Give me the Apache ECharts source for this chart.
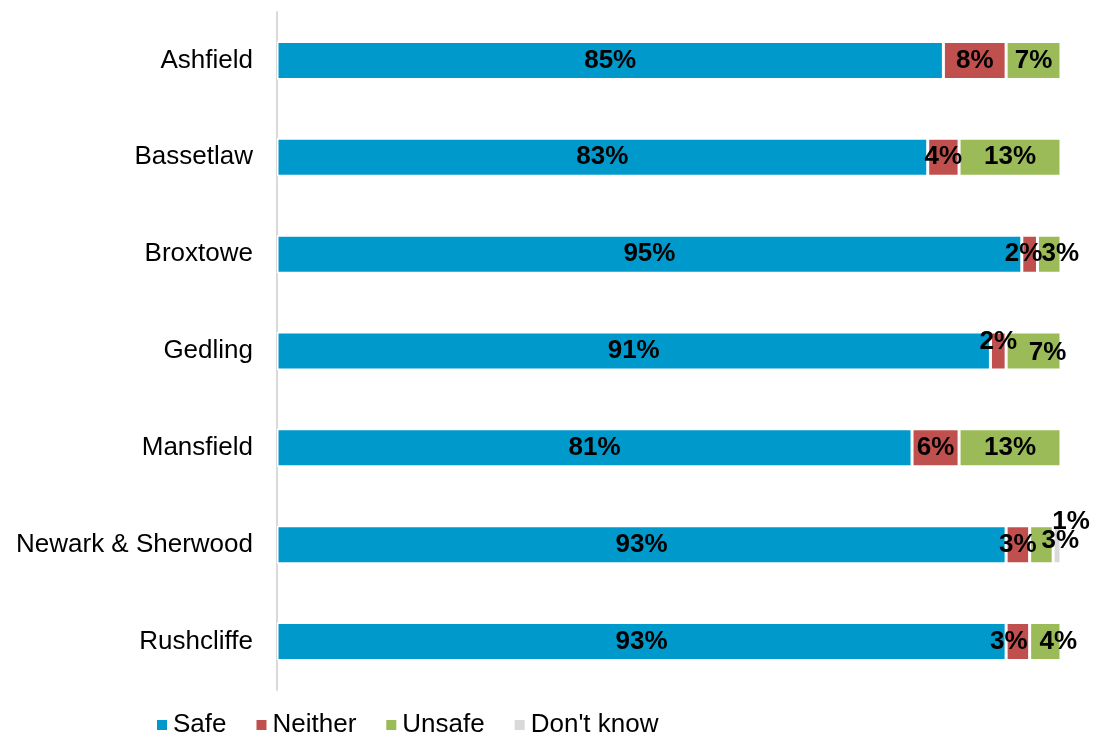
<!DOCTYPE html>
<html>
<head>
<meta charset="utf-8">
<script src="https://cdn.jsdelivr.net/npm/echarts@6/dist/echarts.min.js"></script>
<style>
html,body{margin:0;padding:0;background:#fff;}
#chart{width:1095px;height:733px;}
</style>
</head>
<body>
<div id="chart"></div>
<script>
const categories = ["Ashfield", "Bassetlaw", "Broxtowe", "Gedling", "Mansfield", "Newark & Sherwood", "Rushcliffe"];
const safe = [85, 83, 95, 91, 81, 93, 93];
const neither = [8, 4, 2, 2, 6, 3, 3];
const unsafe = [7, 13, 3, 7, 13, 3, 4];
const dontKnow = [0, 0, 0, 0, 0, 1, 0];

const seriesNames = ["Safe", "Neither", "Unsafe", "Don't know"];
const seriesData = [safe, neither, unsafe, dontKnow];
const colors = ["#0099CC", "#C0504D", "#9BBB59", "#D9D9D9"];

// label nudges for crowded segments (style only)
const nudges = {
  "1-2": [-6, 0], "2-2": [11, 0],
  "1-3": [0, -9], "2-3": [14, 2],
  "2-5": [19, -4], "3-5": [14, -23],
  "1-6": [-9, 0], "2-6": [13, 0]
};

const series = seriesData.map((vals, s) => ({
  name: seriesNames[s],
  type: 'bar',
  stack: 'total',
  barWidth: 38,
  itemStyle: { color: colors[s], borderColor: '#fff', borderWidth: 1.5 },
  data: vals.map((v, i) => {
    const item = { value: v };
    const n = nudges[s + '-' + i];
    if (n) item.label = { offset: n };
    if (v === 0) item.label = { show: false };
    return item;
  }),
  label: {
    show: true,
    position: 'inside',
    formatter: p => p.value + '%',
    color: '#000',
    fontWeight: 'bold',
    fontSize: 26,
    fontFamily: 'Liberation Sans, Arial, sans-serif'
  }
}));

const chart = echarts.init(document.getElementById('chart'));
chart.setOption({
  animation: false,
  textStyle: { fontFamily: 'Liberation Sans, Arial, sans-serif' },
  grid: { left: 277, right: 34, top: 12, bottom: 43, containLabel: false },
  xAxis: { type: 'value', min: 0, max: 100, show: false },
  yAxis: {
    type: 'category',
    data: categories,
    inverse: true,
    axisLine: { show: true, lineStyle: { color: '#D9D9D9', width: 2 } },
    axisTick: { show: false },
    axisLabel: { color: '#000', fontSize: 26, margin: 24 }
  },
  legend: {
    left: 150,
    top: 707,
    itemWidth: 12,
    itemHeight: 12,
    itemGap: 28,
    icon: 'rect',
    textStyle: { fontSize: 26, color: '#000' },
    data: seriesNames
  },
  series: series
});
</script>
</body>
</html>
